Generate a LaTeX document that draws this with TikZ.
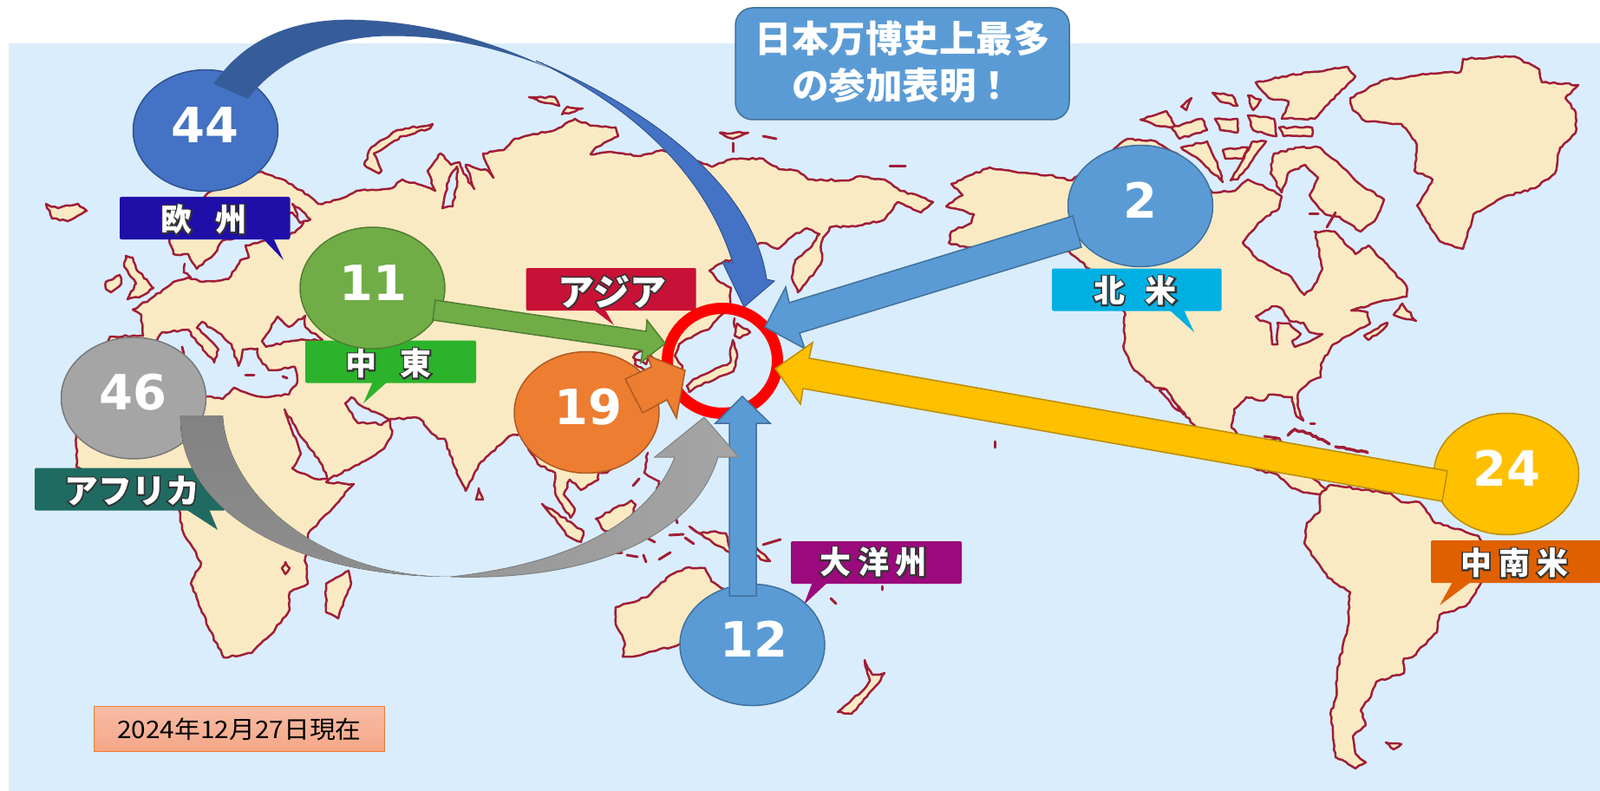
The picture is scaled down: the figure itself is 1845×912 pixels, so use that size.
\documentclass[tikz,border=0pt]{standalone}
\usepackage{fontspec}
\usepackage{graphicx}
\usetikzlibrary{shapes.geometric,decorations.pathmorphing}
\newfontfamily\jpf{Noto Sans CJK JP}
\newfontfamily\numf{DejaVu Sans}
\definecolor{sea}{HTML}{DAEDFC}
\definecolor{landc}{HTML}{FAEAC3}
\definecolor{coast}{HTML}{A01E36}
\definecolor{bl}{HTML}{5B9BD5}
\definecolor{blS}{HTML}{41719C}
\newcommand{\halo}[1]{\makebox[0pt][l]{\special{pdf:code q 1 Tr 3.2 w 0.2 0.2 0.2 RG}#1\special{pdf:code Q}}#1}
\tikzset{
  rough/.style={decorate,decoration={random steps,segment length=4.5pt,amplitude=1.1pt}},
  land/.style={rough,fill=landc,draw=coast,line width=2.5pt,line join=round},
  water/.style={rough,fill=sea,draw=coast,line width=2.5pt,line join=round},
  coastline/.style={rough,draw=coast,line width=2.5pt,line cap=round},
  speck/.style={draw=coast,line width=3pt,line cap=round},
  bubble/.style={ellipse,minimum width=167pt,minimum height=140pt,inner sep=0pt,line width=1.5pt},
  numtext/.style={inner sep=0pt,text=white,font={\numf\bfseries\fontsize{56}{60}\selectfont}},
  tag/.style={inner sep=0pt,rounded corners=2pt,minimum height=49pt},
  tagtext/.style={inner sep=0pt,text=white,font={\jpf\bfseries\fontsize{36}{40}\selectfont}},
  blockarrow/.style={line width=1.5pt,line join=miter},
}
\begin{document}
\begin{tikzpicture}[x=1pt,y=-1pt]
\useasboundingbox (0,0) rectangle (1845,912);
\fill[white] (0,0) rectangle (1845,912);
\fill[sea] (10,50) rectangle (1845,912);

% ---------- Afro-Eurasia
\path[land] (302,198) -- (329,208) -- (358,227) -- (367,235) -- (381,233) -- (399,227) -- (411,220) -- (452,217) -- (464,207) -- (496,217) -- (502,220) -- (493,197) -- (508,177) -- (520,190) -- (530,187) -- (540,210) -- (547,218) -- (537,190) -- (563,197) -- (569,205) -- (557,177) -- (581,173) -- (593,160) -- (640,150) -- (663,137) -- (681,145) -- (710,147) -- (713,157) -- (687,170) -- (681,178) -- (704,175) -- (739,180) -- (763,173) -- (790,180) -- (822,192) -- (845,183) -- (880,183) -- (898,195) -- (920,197) -- (932,207) -- (979,208) -- (991,203) -- (1020,207) -- (1038,220) -- (1062,227) -- (1076,233) -- (1062,245) -- (1035,233) -- (1020,253) -- (991,260) -- (957,262) -- (947,280) -- (948,300) -- (940,313) -- (920,337) -- (913,320) -- (917,300) -- (933,287) -- (945,270) -- (930,263) -- (913,273) -- (897,287) -- (880,280) -- (865,285) -- (845,300) -- (837,300) -- (818,312) -- (827,323) -- (843,332) -- (842,350) -- (832,363) -- (817,380) -- (800,387) -- (783,397) -- (778,410) -- (787,422) -- (780,440) -- (765,425) -- (750,410) -- (732,408) -- (732,420) -- (750,430) -- (750,500) -- (700,545) -- (690,545) -- (690,553) -- (670,565) -- (657,553) -- (650,570) -- (663,587) -- (658,597) -- (640,568) -- (640,545) -- (620,535) -- (600,500) -- (587,503) -- (552,536) -- (537,566) -- (522,533) -- (513,506) -- (505,506) -- (483,482) -- (450,483) -- (452,500) -- (443,517) -- (417,533) -- (380,552) -- (376,556) -- (408,558) -- (376,593) -- (355,616) -- (352,643) -- (355,673) -- (334,683) -- (334,703) -- (311,733) -- (290,753) -- (258,758) -- (240,723) -- (220,673) -- (232,649) -- (211,613) -- (208,596) -- (205,580) -- (150,578) -- (88,538) -- (88,504) -- (85,470) -- (127,388) -- (165,387) -- (163,363) -- (153,357) -- (173,345) -- (200,325) -- (217,320) -- (233,325) -- (263,322) -- (277,300) -- (287,297) -- (283,283) -- (302,278) -- (340,268) -- (350,257) -- (337,245) -- (320,250) -- (270,275) -- (257,277) -- (247,293) -- (227,310) -- (217,293) -- (200,293) -- (195,277) -- (215,245) -- (250,215) -- cycle;
% inland seas
\path[water] (187,383) -- (217,380) -- (226,393) -- (243,412) -- (247,418) -- (252,403) -- (240,390) -- (227,378) -- (233,371) -- (257,388) -- (267,397) -- (275,422) -- (280,403) -- (297,402) -- (298,412) -- (310,427) -- (340,423) -- (343,440) -- (333,455) -- (307,458) -- (290,455) -- (270,447) -- (257,460) -- (240,457) -- (200,470) -- (170,410) -- cycle;
\path[water] (302,393) -- (320,365) -- (333,377) -- (352,364) -- (352,377) -- (372,392) -- (352,392) -- (337,393) -- (307,400) -- cycle;
\path[water] (328,472) -- (350,507) -- (372,537) -- (377,552) -- (363,552) -- (337,540) -- (347,523) -- (333,487) -- cycle;
\path[water] (398,465) -- (405,458) -- (420,470) -- (437,477) -- (450,484) -- (440,490) -- (433,487) -- (413,488) -- cycle;
\path[water] (510,240) -- (518,205) -- (527,192) -- (527,215) -- (522,238) -- cycle;
\path[water] (730,412) -- (738,405) -- (750,408) -- (745,420) -- cycle;
\path[water] (337,235) -- (346,257) -- (358,253) -- (345,240) -- cycle;
\draw[speck] (210,400) -- (212,408);
\draw[speck] (283,432) -- (293,432);
\draw[speck] (326,434) -- (331,436);
\draw[coastline] (213,304) -- (212,314) -- (220,320);

% ---------- islands around Eurasia
\path[land] (53,235) -- (60,252) -- (78,255) -- (100,243) -- (90,235) -- (67,240) -- cycle;
\path[land] (145,295) -- (153,297) -- (157,310) -- (177,332) -- (160,343) -- (147,345) -- (157,327) -- (143,307) -- cycle;
\path[land] (122,325) -- (138,317) -- (140,327) -- (128,337) -- (122,333) -- cycle;
\path[land] (499,143) -- (458,150) -- (428,170) -- (420,190) -- (437,200) -- (440,197) -- (431,177) -- (464,157) -- (496,148) -- cycle;
\path[land] (610,112) -- (640,112) -- (645,122) -- (622,117) -- cycle;
\path[land] (654,123) -- (672,125) -- (648,132) -- cycle;
\path[land] (830,153) -- (863,153) -- (845,160) -- cycle;
\draw[speck] (880,157) -- (895,160);
\draw[speck] (845,165) -- (845,175);
\draw[speck] (1026,192) -- (1044,192);
\path[land] (552,563) -- (557,576) -- (549,576) -- cycle;
\path[land] (402,658) -- (405,673) -- (390,713) -- (376,706) -- (376,673) -- cycle;
\path[land] (329,648) -- (334,655) -- (329,662) -- (325,655) -- cycle;
% Japan
\path[land] (850,373) -- (865,383) -- (853,390) -- (847,387) -- cycle;
\path[land] (845,392) -- (850,408) -- (846,428) -- (825,437) -- (805,445) -- (795,452) -- (792,445) -- (800,437) -- (822,427) -- (842,418) -- (842,403) -- cycle;
\draw[coastline] (847,367) -- (847,377);
% South-East Asia
\path[land] (625,581) -- (640,590) -- (673,613) -- (670,625) -- (653,617) -- (640,597) -- cycle;
\path[land] (687,598) -- (728,577) -- (733,582) -- (720,620) -- (697,612) -- cycle;
\draw[coastline] (747,522) -- (743,545) -- (760,555) -- (757,570);
\draw[speck] (730,560) -- (737,552);
\draw[speck] (697,637) -- (717,637);
\draw[speck] (723,640) -- (735,642);
\draw[speck] (742,640) -- (745,648);
\draw[speck] (760,645) -- (773,637);
\draw[speck] (740,617) -- (755,625);
\draw[speck] (779,597) -- (781,603);
\draw[speck] (772,617) -- (788,616);
\draw[speck] (790,620) -- (800,627);
\path[land] (795,607) -- (807,615) -- (820,613) -- (837,615) -- (845,640) -- (830,630) -- (813,620) -- cycle;
\path[land] (868,628) -- (888,647) -- (877,645) -- (868,635) -- cycle;
\draw[speck] (880,628) -- (900,622);
% Australia, NZ
\path[land] (710,700) -- (747,688) -- (773,663) -- (790,655) -- (813,655) -- (820,670) -- (837,680) -- (860,720) -- (783,743) -- (740,755) -- (718,757) -- (720,740) -- (710,720) -- cycle;
\path[land] (997,761) -- (1006,778) -- (1020,776) -- (1008,793) -- (982,823) -- (966,821) -- (997,794) -- (1003,785) -- cycle;
\draw[speck] (958,690) -- (964,696);
\draw[speck] (1017,676) -- (1017,680);
\draw[speck] (1147,509) -- (1147,516);

% ---------- Americas
\path[land] (1097,212) -- (1141,193) -- (1174,199) -- (1209,202) -- (1236,208) -- (1260,190) -- (1300,160) -- (1333,163) -- (1357,177) -- (1375,200) -- (1398,222) -- (1424,220) -- (1439,207) -- (1469,220) -- (1478,227) -- (1475,240) -- (1451,257) -- (1433,280) -- (1451,300) -- (1486,317) -- (1504,340) -- (1513,333) -- (1525,310) -- (1516,267) -- (1539,267) -- (1563,293) -- (1578,283) -- (1622,330) -- (1622,342) -- (1590,348) -- (1558,358) -- (1577,360) -- (1580,373) -- (1548,390) -- (1535,400) -- (1523,420) -- (1523,435) -- (1510,440) -- (1497,453) -- (1497,470) -- (1503,485) -- (1495,480) -- (1490,458) -- (1463,455) -- (1457,462) -- (1437,458) -- (1423,472) -- (1420,493) -- (1440,515) -- (1475,505) -- (1490,530) -- (1530,565) -- (1522,570) -- (1507,568) -- (1490,563) -- (1473,547) -- (1450,542) -- (1410,520) -- (1377,490) -- (1357,467) -- (1343,448) -- (1332,447) -- (1308,427) -- (1296,403) -- (1297,360) -- (1256,310) -- (1233,290) -- (1186,285) -- (1115,285) -- (1094,280) -- (1097,267) -- (1120,257) -- (1123,247) -- (1091,238) -- (1110,225) -- cycle;
\path[water] (1337,450) -- (1345,449) -- (1365,478) -- (1352,468) -- cycle;
\path[water] (1448,365) -- (1467,353) -- (1477,355) -- (1487,370) -- (1503,372) -- (1510,383) -- (1525,385) -- (1513,392) -- (1493,400) -- (1490,393) -- (1500,385) -- (1487,373) -- (1473,372) -- (1473,397) -- (1467,397) -- (1465,373) -- (1453,370) -- cycle;
\path[land] (1607,363) -- (1617,350) -- (1633,370) -- (1622,368) -- cycle;
\path[land] (1573,387) -- (1600,372) -- (1595,380) -- (1578,392) -- cycle;
\path[land] (1534,559) -- (1604,569) -- (1616,579) -- (1637,579) -- (1655,603) -- (1669,606) -- (1705,618) -- (1711,629) -- (1712,660) -- (1702,683) -- (1690,699) -- (1660,709) -- (1657,729) -- (1628,758) -- (1619,759) -- (1619,776) -- (1587,786) -- (1581,803) -- (1569,819) -- (1575,836) -- (1560,849) -- (1563,869) -- (1575,879) -- (1563,886) -- (1540,873) -- (1534,823) -- (1540,806) -- (1542,773) -- (1554,723) -- (1557,683) -- (1531,666) -- (1504,626) -- (1507,603) -- (1522,589) -- (1522,571) -- cycle;
\path[land] (1598,856) -- (1616,858) -- (1607,864) -- cycle;
% Caribbean
\draw[coastline,line width=3.5pt] (1485,502) -- (1493,495) -- (1517,503) -- (1533,512);
\draw[coastline,line width=3.5pt] (1540,515) -- (1557,518) -- (1577,522);
\draw[speck] (1458,503) -- (1473,505);
\draw[speck] (1511,488) -- (1516,488);
% Arctic Canada
\path[land] (1315,138) -- (1345,128) -- (1357,147) -- (1333,145) -- cycle;
\path[land] (1362,123) -- (1374,113) -- (1368,127) -- cycle;
\path[land] (1351,147) -- (1386,137) -- (1392,150) -- (1360,160) -- cycle;
\path[land] (1398,107) -- (1421,110) -- (1427,122) -- (1407,117) -- cycle;
\path[land] (1401,137) -- (1427,137) -- (1427,153) -- (1407,150) -- cycle;
\path[land] (1439,110) -- (1454,115) -- (1445,127) -- cycle;
\path[land] (1439,133) -- (1469,137) -- (1472,157) -- (1445,150) -- cycle;
\path[land] (1475,147) -- (1513,147) -- (1513,157) -- (1480,157) -- cycle;
\path[land] (1362,170) -- (1392,163) -- (1404,190) -- (1410,210) -- (1386,187) -- cycle;
\path[land] (1410,173) -- (1439,170) -- (1433,183) -- (1413,183) -- cycle;
\path[land] (1445,163) -- (1460,163) -- (1439,193) -- (1427,207) -- (1419,208) -- cycle;
\path[land] (1469,177) -- (1498,170) -- (1522,170) -- (1545,190) -- (1569,213) -- (1596,230) -- (1585,255) -- (1569,267) -- (1545,250) -- (1528,247) -- (1510,225) -- (1520,205) -- (1505,190) -- (1485,200) -- (1478,222) -- (1465,200) -- cycle;
\path[land] (1448,95) -- (1486,87) -- (1554,77) -- (1563,88) -- (1528,123) -- (1516,137) -- (1478,137) -- (1486,117) -- (1463,113) -- cycle;
\draw[speck] (1510,247) -- (1520,247);
\draw[speck] (1530,262) -- (1540,245);
% Greenland
\path[land] (1557,113) -- (1596,92) -- (1652,85) -- (1684,83) -- (1687,68) -- (1746,65) -- (1775,80) -- (1778,95) -- (1820,98) -- (1805,113) -- (1817,130) -- (1817,153) -- (1799,170) -- (1793,200) -- (1770,217) -- (1734,227) -- (1699,247) -- (1687,287) -- (1660,278) -- (1634,237) -- (1652,207) -- (1631,197) -- (1634,167) -- (1616,143) -- (1575,140) -- (1560,127) -- cycle;

% ---------- region tags (tail, box, text)
\definecolor{tagEU}{HTML}{1F0FA8}
\definecolor{tagME}{HTML}{2BB32B}
\definecolor{tagAS}{HTML}{C81136}
\definecolor{tagAF}{HTML}{1F6B62}
\definecolor{tagOC}{HTML}{9B0A7C}
\definecolor{tagNA}{HTML}{00B0E3}
\definecolor{tagSA}{HTML}{E06000}
\fill[tagEU] (302,274) -- (315,274) -- (327,300) -- cycle;
\node[tag,fill=tagEU,minimum width=196.5pt] (tEU) at (236.25,251.5) {};
\node[tagtext] at (235,253) {\halo{欧\hskip27pt 州}};
\fill[tagME] (430,440) -- (447,440) -- (419,465) -- cycle;
\node[tag,fill=tagME,minimum width=197pt] (tME) at (450.5,417) {};
\node[tagtext] at (448,419) {\halo{中\hskip27pt 東}};
\fill[tagAS] (683,356) -- (697,356) -- (708,375) -- cycle;
\node[tag,fill=tagAS,minimum width=196pt] (tAS) at (704.7,333.5) {};
\node[tagtext,font={\jpf\bfseries\fontsize{42}{44}\selectfont}] at (706,336) {\halo{アジア}};
\fill[tagAF] (214,587) -- (241,587) -- (251,611) -- cycle;
\node[tag,fill=tagAF,minimum width=220pt] (tAF) at (150,564) {};
\node[tagtext,font={\jpf\bfseries\fontsize{39}{44}\selectfont}] at (152,566) {\halo{アフリカ}};
\fill[tagOC] (937,671) -- (955,671) -- (927,697) -- cycle;
\node[tag,fill=tagOC,minimum width=197pt] (tOC) at (1010.5,648.5) {};
\node[tagtext] at (1007,648) {\halo{大\hskip8pt 洋\hskip8pt 州}};
\fill[tagNA] (1348,357) -- (1365,357) -- (1377,383) -- cycle;
\node[tag,fill=tagNA,minimum width=195.5pt] (tNA) at (1310.75,334) {};
\node[tagtext] at (1309,335) {\halo{北\hskip24pt 米}};
\fill[tagSA] (1675,671) -- (1696,671) -- (1660,698) -- cycle;
\node[tag,fill=tagSA,minimum width=196pt] (tSA) at (1748,647.5) {};
\node[tagtext] at (1746,649) {\halo{中\hskip8pt 南\hskip8pt 米}};

% ---------- red ring
\draw[red,line width=13pt] (833,416) ellipse [x radius=63.5,y radius=60.5];

% ---------- bubbles
\node[bubble,fill=bl,draw=blS] (nNA) at (1315,237.5) {};
\node[bubble,fill=bl,draw=blS] (nOC) at (867.5,743.5) {};
\node[bubble,fill={rgb,255:red,68;green,114;blue,196},draw={rgb,255:red,47;green,82;blue,143}] (nEU) at (237,150.5) {};
\node[bubble,fill={rgb,255:red,112;green,173;blue,71},draw={rgb,255:red,80;green,126;blue,50}] (nME) at (429.5,332) {};
\node[bubble,fill={rgb,255:red,165;green,165;blue,165},draw={rgb,255:red,120;green,120;blue,120}] (nAF) at (154,459) {};
\node[bubble,fill={rgb,255:red,237;green,125;blue,49},draw={rgb,255:red,174;green,90;blue,33}] (nAS) at (676.5,475.5) {};
\node[bubble,fill={rgb,255:red,255;green,192;blue,0},draw={rgb,255:red,188;green,140;blue,0}] (nSA) at (1737,546.5) {};
\node[numtext] at (236,144) {44};
\node[numtext] at (430,326) {11};
\node[numtext] at (153,452) {46};
\node[numtext] at (678,469) {19};
\node[numtext] at (869,737) {12};
\node[numtext] at (1315,231) {2};
\node[numtext] at (1737,540) {24};

% ---------- block arrows
\draw[blockarrow,fill={rgb,255:red,112;green,173;blue,71},draw={rgb,255:red,80;green,126;blue,50}] (502,346) -- (745,382) -- (746,369) -- (767,396) -- (739,418) -- (741,404) -- (499,369) -- cycle;
\draw[blockarrow,fill=bl,draw=blS] (882,377) -- (906,331) -- (910,349) -- (1237,249) -- (1247,285) -- (922,384) -- (928,402) -- cycle;
\draw[blockarrow,fill={rgb,255:red,255;green,192;blue,0},draw={rgb,255:red,188;green,140;blue,0}] (894,425) -- (937,395) -- (933,413) -- (1669,543) -- (1663,578) -- (926,448) -- (923,466) -- cycle;
\draw[blockarrow,fill=bl,draw=blS] (856,457) -- (825,488) -- (841,488) -- (841,687) -- (872,687) -- (872,488) -- (888,488) -- cycle;
\draw[blockarrow,fill={rgb,255:red,237;green,125;blue,49},draw={rgb,255:red,174;green,90;blue,33}] (721,437) -- (751,423) -- (747,410) -- (790,427) -- (780,482) -- (769,461) -- (741,476) -- cycle;
% curved arrow, Europe
\draw[line width=1pt,draw={rgb,255:red,47;green,82;blue,143},fill={rgb,255:red,68;green,114;blue,196}] (618,70) .. controls (770,135) and (870,225) .. (884,322) -- (893,324) -- (858,354) -- (833,302) -- (845,303) .. controls (815,205) and (735,125) .. (618,70) -- cycle;
\fill[fill={rgb,255:red,54;green,92;blue,154}] (246.5,96.7) .. controls (285,40) and (345,22) .. (405,22.7) .. controls (480,24) and (555,42) .. (632,78) .. controls (560,50) and (500,40) .. (440,41.7) .. controls (370,45) and (315,75) .. (285.8,114) -- cycle;
% curved arrow, Africa
\draw[line width=1pt,draw=gray,left color={rgb,255:red,150;green,150;blue,150},right color={rgb,255:red,165;green,165;blue,165}] (520,665) .. controls (680,670) and (800,620) .. (828,527) -- (852,527) -- (812,481) -- (755,527) -- (778,527) .. controls (750,600) and (660,650) .. (520,665) -- cycle;
\fill[top color={rgb,255:red,130;green,130;blue,130},bottom color={rgb,255:red,142;green,142;blue,142}] (208,479) -- (257,479) .. controls (262,570) and (370,665) .. (520,665) .. controls (340,665) and (205,590) .. (208,479) -- cycle;

% ---------- headline and date
\node[draw={rgb,255:red,65;green,113;blue,156},fill=bl,line width=1.5pt,rounded corners=20pt,minimum width=385pt,minimum height=129pt,inner sep=0pt] (head) at (1040.5,73.5) {};
\node[inner sep=0pt,text=white,align=center,font={\jpf\bfseries\fontsize{42.5}{54}\selectfont}] (headtext) at (1040.5,71) {日本万博史上最多\\の参加表明！};
\node[draw={rgb,255:red,237;green,125;blue,49},top color={rgb,255:red,247;green,188;blue,165},bottom color={rgb,255:red,244;green,167;blue,135},line width=1.3pt,minimum width=335pt,minimum height=52pt,inner sep=0pt,font={\jpf\fontsize{28}{32}\selectfont}] (date) at (276,840.5) {\scalebox{1.065}[1]{2024年12月27日現在}};
\end{tikzpicture}
\end{document}
